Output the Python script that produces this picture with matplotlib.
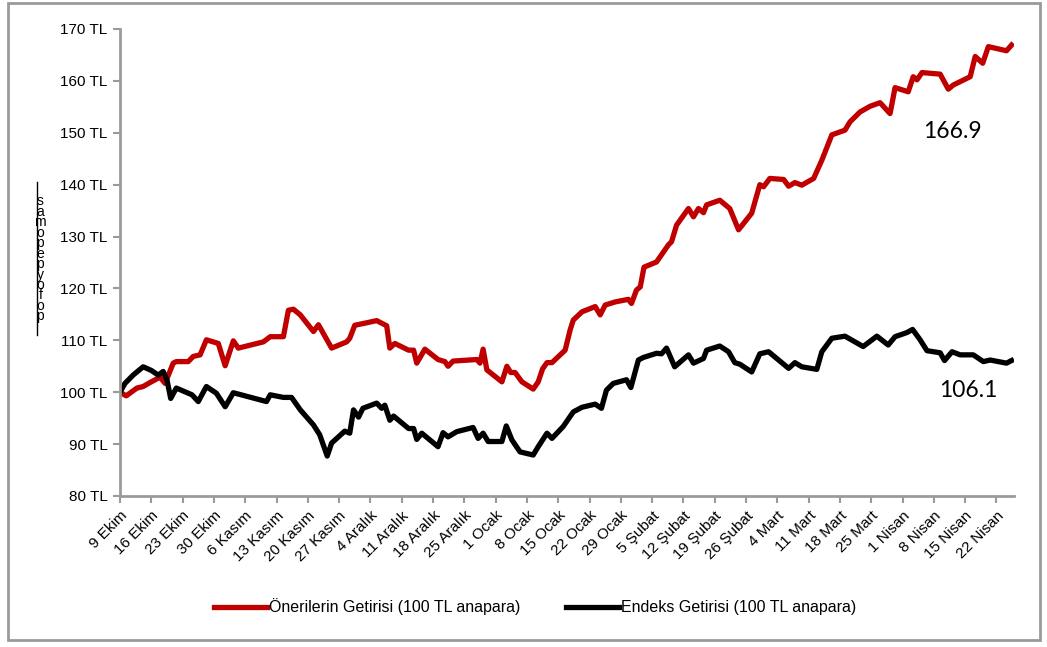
import matplotlib
matplotlib.use("Agg")
import matplotlib.pyplot as plt
import matplotlib.ticker as mticker
from matplotlib.patches import Rectangle
from matplotlib.lines import Line2D

# ---------------------------------------------------------------------------
# Veriler (işlem günü sırası, değer TL)
# ---------------------------------------------------------------------------

TARIH_ETIKETLERI = [
    "9 Ekim", "16 Ekim", "23 Ekim", "30 Ekim",
    "6 Kasım", "13 Kasım", "20 Kasım", "27 Kasım",
    "4 Aralık", "11 Aralık", "18 Aralık", "25 Aralık",
    "1 Ocak", "8 Ocak", "15 Ocak", "22 Ocak", "29 Ocak",
    "5 Şubat", "12 Şubat", "19 Şubat", "26 Şubat",
    "4 Mart", "11 Mart", "18 Mart", "25 Mart",
    "1 Nisan", "8 Nisan", "15 Nisan", "22 Nisan",
]

ONERI_GUN = [
    0, 1, 2.7, 3.7, 5, 6.4, 7.2, 8.5, 9, 10.9, 11.7, 12.8, 13.8, 15.7, 16.8,
    18.1, 18.9, 22.9, 24, 26.1, 26.9, 27.7, 28.8, 30.9, 31.7, 33.8, 36.2,
    36.7, 37.5, 39.1, 41, 42.6, 43.1, 43.9, 46.1, 46.9, 47.4, 48.7, 50.8,
    51.9, 52.4, 53.2, 57, 57.5, 58, 58.6, 61, 61.8, 62.4, 63.1, 64.2, 66,
    66.8, 67.5, 68.2, 69, 71.1, 71.9, 72.4, 73.8, 75.9, 76.7, 77.5, 79.1,
    81.2, 81.7, 82.5, 83.1, 83.7, 85.7, 87.6, 88.1, 88.9, 90.8, 91.6, 92.4,
    93.2, 93.7, 95.8, 97.4, 98.8, 100.9, 102.2, 102.8, 103.8, 106, 106.8,
    107.8, 108.9, 110.8, 112.1, 113.7, 115.8, 116.6, 118.2, 119.8, 121.4,
    123, 123.8, 125.9, 126.7, 127.3, 128.1, 131, 132.3, 133.1, 135.8, 136.6,
    137.8, 138.7, 141.6, 142.4,
]
ONERI_DEGER = [
    100, 99.3, 100.8, 101.1, 102, 102.9, 101.7, 105.6, 105.9, 105.9, 106.9,
    107.2, 110.1, 109.4, 105.1, 109.9, 108.5, 109.7, 110.7, 110.7, 115.8,
    116, 114.9, 111.7, 113, 108.5, 109.7, 110.4, 112.9, 113.3, 113.8, 112.8,
    108.5, 109.4, 108.1, 108.1, 105.6, 108.3, 106.3, 105.9, 105, 106, 106.3,
    105.6, 108.3, 104.3, 102, 105, 103.8, 103.8, 102, 100.6, 102, 104.5,
    105.7, 105.7, 108.1, 112, 113.9, 115.5, 116.5, 114.9, 116.8, 117.4,
    117.9, 117.1, 119.7, 120.3, 124.1, 125.1, 128.4, 129, 132.2, 135.4,
    133.8, 135.4, 134.6, 136.1, 137, 135.4, 131.3, 134.5, 140, 139.6, 141.2,
    141, 139.7, 140.4, 139.9, 141.2, 144.7, 149.6, 150.5, 152.1, 154, 155.1,
    155.8, 153.7, 158.7, 157.9, 160.8, 160.2, 161.6, 161.3, 158.4, 159.2,
    160.8, 164.7, 163.4, 166.6, 165.8, 166.9,
]

ENDEKS_GUN = [
    0, 0.8, 2.1, 3.7, 5, 6.1, 6.9, 7.5, 8.1, 9, 11.5, 12.5, 13.8, 15.4, 16.8,
    18.1, 23.4, 24, 26.1, 27.4, 28.8, 30.9, 31.9, 33.1, 33.8, 35.9, 36.7,
    37.3, 38.1, 38.8, 41, 41.8, 42.3, 43.1, 43.7, 46.1, 46.9, 47.4, 48.2,
    50.8, 51.6, 52.4, 53.8, 56.4, 57.2, 58, 58.8, 61, 61.7, 62.6, 63.9, 66,
    66.8, 68.2, 69, 70.8, 72.4, 73.8, 75.9, 76.9, 77.7, 78.8, 80.9, 81.6,
    82.8, 83.6, 85.7, 86.5, 87.3, 88.6, 90.8, 91.6, 93.2, 93.7, 95.8, 97.2,
    98.2, 99, 100.9, 102.2, 103.6, 106.8, 107.8, 108.9, 111.3, 112.1, 113.7,
    115.8, 118.7, 120.9, 122.7, 123.8, 125.7, 126.6, 127.8, 128.9, 131,
    131.7, 132.9, 134.2, 136.3, 137.9, 139, 141.6, 142.4,
]
ENDEKS_DEGER = [
    100, 101.7, 103.3, 104.9, 104.2, 103.3, 104, 102.4, 98.8, 100.8, 99.5,
    98.2, 101.1, 99.8, 97.2, 99.9, 98.2, 99.5, 99, 99, 96.6, 93.7, 91.8,
    87.7, 90.2, 92.5, 92.1, 96.6, 95.2, 96.9, 97.9, 96.9, 97.5, 94.6, 95.4,
    93, 93, 90.9, 92.1, 89.5, 92.2, 91.4, 92.4, 93.2, 91.1, 92.1, 90.5,
    90.5, 93.5, 90.8, 88.5, 87.9, 89.5, 92.1, 91.1, 93.4, 96.2, 97.1, 97.7,
    96.9, 100.4, 101.7, 102.4, 100.9, 106.2, 106.7, 107.5, 107.4, 108.5,
    104.9, 107.2, 105.6, 106.5, 108.1, 108.9, 107.8, 105.7, 105.4, 103.9,
    107.4, 107.8, 104.6, 105.7, 104.9, 104.4, 107.8, 110.4, 110.8, 108.8,
    110.8, 109.1, 110.7, 111.5, 112.1, 110.1, 108, 107.6, 106.1, 107.8,
    107.2, 107.2, 105.9, 106.2, 105.6, 106.1,
]

SON_ONERI = "166.9"
SON_ENDEKS = "106.1"

KIRMIZI = "#C00000"
GRI = "#9A9A9A"


# ---------------------------------------------------------------------------
# Grafik
# ---------------------------------------------------------------------------

def grafik_ciz(destino: str = "out.png") -> None:
    plt.rcParams["font.family"] = ["Liberation Sans", "DejaVu Sans"]

    fig = plt.figure(figsize=(10.47, 6.47), dpi=100)
    ax = fig.add_axes([0.1146, 0.2334, 0.8539, 0.7218])

    ax.plot(ONERI_GUN, ONERI_DEGER, color=KIRMIZI, lw=3.8,
            solid_joinstyle="round", label="Önerilerin Getirisi (100 TL anapara)")
    ax.plot(ENDEKS_GUN, ENDEKS_DEGER, color="black", lw=3.8,
            solid_joinstyle="round", label="Endeks Getirisi (100 TL anapara)")

    ax.set_xlim(0, 142.8)
    ax.set_ylim(80, 170)
    ax.yaxis.set_major_locator(mticker.MultipleLocator(10))
    ax.yaxis.set_major_formatter(mticker.FuncFormatter(lambda v, _: f"{v:.0f} TL"))

    ax.set_xticks([5 * i for i in range(len(TARIH_ETIKETLERI))])
    ax.set_xticklabels(TARIH_ETIKETLERI, rotation=45, ha="right",
                       rotation_mode="anchor")

    for lado in ("top", "right"):
        ax.spines[lado].set_visible(False)
    for lado in ("left", "bottom"):
        ax.spines[lado].set_color(GRI)
        ax.spines[lado].set_linewidth(2)
    ax.tick_params(axis="both", direction="out", length=5, width=1.5,
                   color=GRI, labelsize=11, labelcolor="black", pad=4)

    # Son değer etiketleri
    ax.text(132.9, 150.3, SON_ONERI, fontsize=16.5, family="Lato",
            ha="center", va="center")
    ax.text(135.5, 100.3, SON_ENDEKS, fontsize=16.5, family="Lato",
            ha="center", va="center")

    # Bozuk görünen eksen başlığı (referanstaki gibi)
    fig.add_artist(Line2D([0.0353, 0.0353], [0.482, 0.718], color="black",
                          lw=1, transform=fig.transFigure))
    fig.text(0.0385, 0.600, "\n".join("samopepyofop"), fontsize=10,
             ha="center", va="center", linespacing=0.68)

    fig.legend(loc="center", bbox_to_anchor=(0.511, 0.0618), ncol=2,
               frameon=False, fontsize=11.5, handlelength=3.3,
               handletextpad=0.12, columnspacing=2.9)

    # Dış çerçeve
    fig.add_artist(Rectangle((0.0076, 0.0108), 0.9857, 0.9846, fill=False,
                             edgecolor=GRI, lw=2, transform=fig.transFigure))

    fig.savefig(destino, dpi=100)
    plt.close(fig)


if __name__ == "__main__":
    grafik_ciz()
